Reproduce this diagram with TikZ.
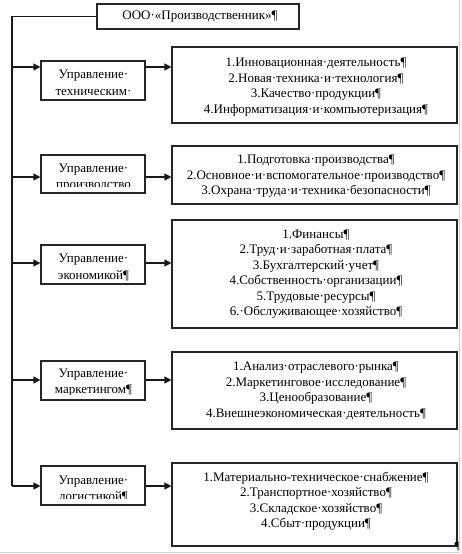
\documentclass[tikz,border=0pt]{standalone}
\usepackage{fontspec}
\setmainfont{Liberation Serif}
\usetikzlibrary{arrows.meta}
\tikzset{
  box/.style={draw=black!85, line width=1.2pt, rectangle, inner sep=0pt},
  lbox/.style={box, minimum width=104pt},
  rbox/.style={box, minimum width=285pt},
  rtext/.style={align=center, inner sep=0pt, font=\fontsize{13}{15.5}\selectfont},
  ltext/.style={align=center, inner sep=0pt, font=\fontsize{13}{16.5}\selectfont},
  conn/.style={draw=black!90, line width=1.2pt},
  arr/.style={conn, -{Triangle[length=7pt,width=7pt]}},
  frame/.style={draw=black!18, line width=1.2pt}
}
\begin{document}
\begin{tikzpicture}[x=1pt,y=-1pt]
\useasboundingbox (0,0) rectangle (462,554);
\fill[white] (0,0) rectangle (462,554);
% light frame of the picture
\draw[frame] (459.5,0) -- (459.5,552.5) -- (0,552.5);

% top box
\node[box, minimum width=202pt, minimum height=25pt] (top) at (198,16.5) {};
\node[inner sep=0pt, font=\fontsize{13}{15.5}\selectfont] (toptext) at (200,17) {ООО·«Производственник»¶};

% left boxes
\node[lbox, minimum height=39pt] (b1) at (93,80.5) {};
\node[lbox, minimum height=38pt] (b2) at (93,174) {};
\node[lbox, minimum height=39pt] (b3) at (93,264.5) {};
\node[lbox, minimum height=39pt] (b4) at (93,380.5) {};
\node[lbox, minimum height=39pt] (b5) at (93,485.5) {};

\node[ltext] (t1) at (93.5,83) {Управление·\\техническим·};
\begin{scope}
\clip (42,156) rectangle (144,186.5);
\node[ltext] (t2) at (93.5,177.5) {Управление·\\производство};
\end{scope}
\node[ltext] (t3) at (93.5,267.5) {Управление·\\экономикой¶};
\begin{scope}
\clip (42,362) rectangle (144,394.5);
\node[ltext] (t4) at (93.5,382.5) {Управление·\\маркетингом¶};
\end{scope}
\begin{scope}
\clip (42,467) rectangle (144,498);
\node[ltext] (t5) at (93.5,489) {Управление·\\логистикой¶};
\end{scope}

% right boxes
\node[rbox, minimum height=76pt] (r1) at (314.5,85) {};
\node[rbox, minimum height=58pt] (r2) at (314.5,175) {};
\node[rbox, minimum height=108pt] (r3) at (314.5,274) {};
\node[rbox, minimum height=77pt] (r4) at (314.5,390.5) {};
\node[rbox, minimum height=83pt] (r5) at (314.5,504.5) {};

\node[rtext] (rt1) at (316,87) {1.Инновационная·деятельность¶\\2.Новая·техника·и·технология¶\\3.Качество·продукции¶\\4.Информатизация·и·компьютеризация¶};
\node[rtext] (rt2) at (316,176.5) {1.Подготовка·производства¶\\2.Основное·и·вспомогательное·производство¶\\3.Охрана·труда·и·техника·безопасности¶};
\node[rtext] (rt3) at (316,274) {1.Финансы¶\\2.Труд·и·заработная·плата¶\\3.Бухгалтерский·учет¶\\4.Собственность·организации¶\\5.Трудовые·ресурсы¶\\6.·Обслуживающее·хозяйство¶};
\node[rtext] (rt4) at (316,391) {1.Анализ·отраслевого·рынка¶\\2.Маркетинговое·исследование¶\\3.Ценообразование¶\\4.Внешнеэкономическая·деятельность¶};
\node[rtext] (rt5) at (316,501) {1.Материально-техническое·снабжение¶\\2.Транспортное·хозяйство¶\\3.Складское·хозяйство¶\\4.Сбыт·продукции¶};

% spine coordinates
\coordinate (s1) at (12,67);
\coordinate (s2) at (12,177);
\coordinate (s3) at (12,263);
\coordinate (s4) at (12,380);
\coordinate (s5) at (12,486);

\draw[conn] (top.west) -| (s5);
\draw[arr] (s1) -- (s1 -| b1.west);
\draw[arr] (s2) -- (s2 -| b2.west);
\draw[arr] (s3) -- (s3 -| b3.west);
\draw[arr] (s4) -- (s4 -| b4.west);
\draw[arr] (s5) -- (s5 -| b5.west);

\draw[arr] (s1 -| b1.east) -- (s1 -| r1.west);
\draw[arr] (s2 -| b2.east) -- (s2 -| r2.west);
\draw[arr] (s3 -| b3.east) -- (s3 -| r3.west);
\draw[arr] (s4 -| b4.east) -- (s4 -| r4.west);
\draw[arr] (s5 -| b5.east) -- (s5 -| r5.west);

% stray paragraph mark at the bottom right
\node[inner sep=0pt, font=\fontsize{11}{12}\selectfont] (pm) at (457,547) {¶};
\end{tikzpicture}
\end{document}
